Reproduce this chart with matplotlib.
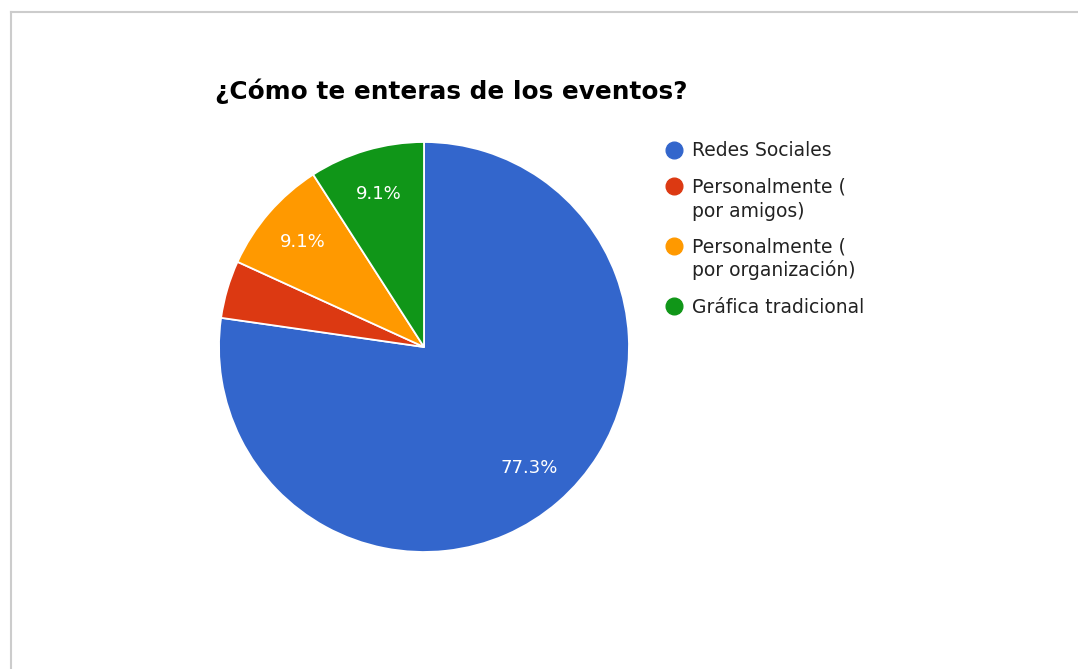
import matplotlib.pyplot as plt
from matplotlib.lines import Line2D

# Survey answers: how people hear about the events
labels = ["Redes Sociales", "Personalmente (\npor amigos)",
          "Personalmente (\npor organización)", "Gráfica tradicional"]
counts = [17, 1, 2, 2]
colors = ["#3366cc", "#dc3912", "#ff9900", "#109618"]
title = "¿Cómo te enteras de los eventos?"

W, H = 1078, 669
fig = plt.figure(figsize=(W / 100, H / 100), dpi=100)
fig.patch.set_facecolor("white")


def fx(px):
    return px / W


def fy(py):
    return 1 - py / H


# light frame along the top and left edges
fig.add_artist(Line2D([fx(10.5), 1], [fy(11.5), fy(11.5)], color="#cccccc", lw=1.5))
fig.add_artist(Line2D([fx(10.5), fx(10.5)], [fy(11.5), 0], color="#cccccc", lw=1.5))

# pie: centre (424, 347), radius 205 px
cx, cy, r = 424, 347, 205
ax = fig.add_axes([fx(cx - r), fy(cy + r), 2 * r / W, 2 * r / H])


def pct_text(p):
    # small slices get no label
    return f"{p:.1f}%" if p >= 5 else ""


wedges, _, autotexts = ax.pie(
    counts, colors=colors, startangle=90, counterclock=False, radius=1,
    autopct=pct_text, pctdistance=0.78,
    wedgeprops=dict(edgecolor="white", linewidth=1.3),
    textprops=dict(color="white", fontsize=13, family="DejaVu Sans"),
)
# pie() resets the limits, so fix them afterwards
ax.set_xlim(-1, 1)
ax.set_ylim(-1, 1)
ax.axis("off")

fig.text(fx(215), fy(99), title, fontsize=17.8, fontweight="bold",
         color="#000000", va="baseline", ha="left", family="DejaVu Sans")

# legend, drawn by hand so the wrapped entries line up like the original
y = 150
line_h = 24
gap = 36
for lab, col in zip(labels, colors):
    fig.add_artist(Line2D([fx(674)], [fy(y)], marker="o", markersize=12,
                          color=col, markeredgecolor=col, linestyle="none"))
    for i, part in enumerate(lab.split("\n")):
        fig.text(fx(692), fy(y + i * line_h + 6.5), part, fontsize=13.5,
                 color="#222222", va="baseline", ha="left", family="DejaVu Sans")
    y += (lab.count("\n")) * line_h + gap

fig.savefig("out.png", dpi=100, facecolor="white")
